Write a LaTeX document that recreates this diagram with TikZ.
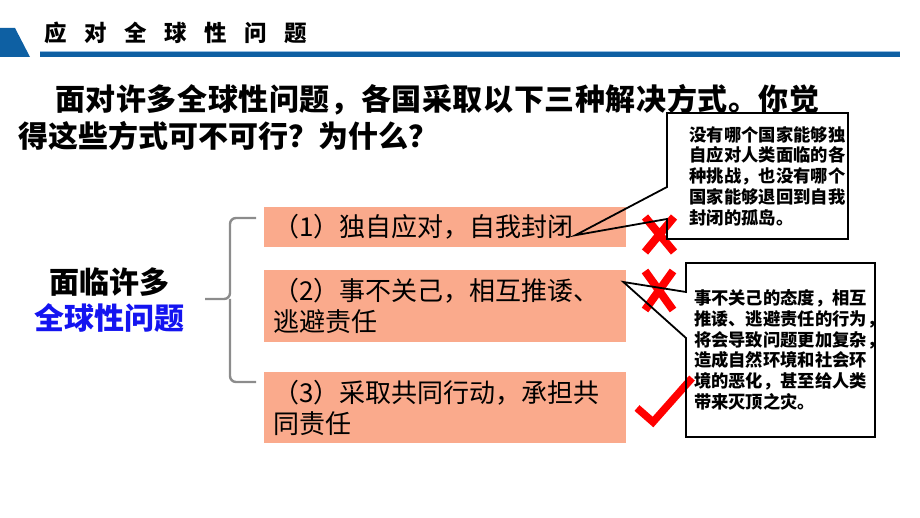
\documentclass[tikz,border=0pt]{standalone}
\usepackage{fontspec}
\setmainfont{Noto Sans CJK SC}
\usetikzlibrary{positioning}
\usetikzlibrary{calc}
\definecolor{bar blue}{RGB}{14,96,163}
\definecolor{bar light}{RGB}{150,190,225}
\definecolor{option fill}{RGB}{250,170,140}
\definecolor{brace grey}{RGB}{140,140,140}
\definecolor{topic blue}{RGB}{20,20,240}
\tikzset{
    % Plain arrow shape, in case it is wanted
    >=stealth,
%
    % Lines and marks
    brace/.style={draw=brace grey, line width=2.4pt, rounded corners=6pt},
    callout/.style={draw=black, line width=1.8pt, line join=miter},
    wrong mark/.style={draw=red, line width=8pt},
    right mark/.style={draw=red, line width=7.5pt, line join=miter},
%
    % We almost always want centre aligned node text
    every node/.style={align=center, inner sep=0},
}

\begin{document}
\begin{tikzpicture}[
    title char/.style={font=\fontsize{22.5}{22.5}\selectfont\bfseries},
    question/.style={anchor=west, font=\fontsize{30}{36}\selectfont\bfseries},
    topic/.style={font=\fontsize{30}{36}\selectfont\bfseries},
    option/.style={fill=option fill, anchor=north west, minimum width=362pt,
        text width=344pt, align=left, inner xsep=9pt,
        font=\fontsize{26}{31}\selectfont},
    note/.style={align=left, font=\fontsize{17.3}{20.7}\selectfont\bfseries},
    x=1pt, y=-1pt,
]
\useasboundingbox (0,0) rectangle (920,518);

% Header
\fill [bar blue] (0,28) -- (15,28) -- (30,57) -- (0,57) -- cycle;
\fill [bar blue] (40,52) rectangle (900,57);
\draw [bar light, line width=0.6pt] (40,51.7) -- (900,51.7);
\foreach \ch [count=\i from 0] in {应,对,全,球,性,问,题}
    \node (title \i) [title char] at (56+40*\i,33) {\ch};

\path
    (55,100) node (question one) [question]
        {\addfontfeature{LetterSpace=2}面对许多全球性问题，各国采取以下三种解决方式。你觉}
    (18,136) node (question two) [question] {得这些方式可不可行？为什么？};

\node (topic) [topic] at (109,300) {面临许多\\\textcolor{topic blue}{全球性问题}};

\path
    (264,207) node (option one) [option, minimum height=40pt]
        {（1）独自应对，自我封闭}
    (264,270) node (option two) [option, minimum height=72pt]
        {（2）事不关己，相互推诿、\\逃避责任}
    (264,372) node (option three) [option, minimum height=71pt]
        {（3）采取共同行动，承担共\\同责任};

\draw [brace] (256,218) -| (230,299) -- (205,299);
\draw [brace] (256,382) -| (230,299);

% Marks go under the callouts
\draw [wrong mark] (645,217) -- (674,252) (674,217) -- (645,252);
\draw [wrong mark] (645,271) -- (673,310) (673,271) -- (645,310);
\draw [right mark] (637,408) -- (653,422) -- (692,378);

% Callouts
\path (667,113) coordinate (note one nw) (848,239) coordinate (note one se)
      (686,263) coordinate (note two nw) (875,437) coordinate (note two se);
\path ($(option one.east)+(-51,8)$) coordinate (tip one)
      ($(option two.north east)+(-3,12)$) coordinate (tip two);

\node (note one) [note] at ($(note one nw)!0.5!(note one se)+(10,0)$)
    {没有哪个国家能够独\\自应对人类面临的各\\种挑战，也没有哪个\\国家能够退回到自我\\封闭的孤岛。};
\node (note two) [note] at ($(note two nw)!0.5!(note two se)$)
    {事不关己的态度，相互\\推诿、逃避责任的行为\rlap{，}\\将会导致问题更加复杂\rlap{，}\\造成自然环境和社会环\\境的恶化，甚至给人类\\带来灭顶之灾。};

\draw [callout] (note one nw) -| (note one se) -| ($(note one nw)+(0,106)$)
    -- (tip one) -- ($(note one nw)+(0,74)$) -- cycle;
\draw [callout] (note two nw) -| (note two se) -| ($(note two nw)+(0,75)$)
    -- (tip two) -- ($(note two nw)+(0,29)$) -- cycle;

\end{tikzpicture}
\end{document}
